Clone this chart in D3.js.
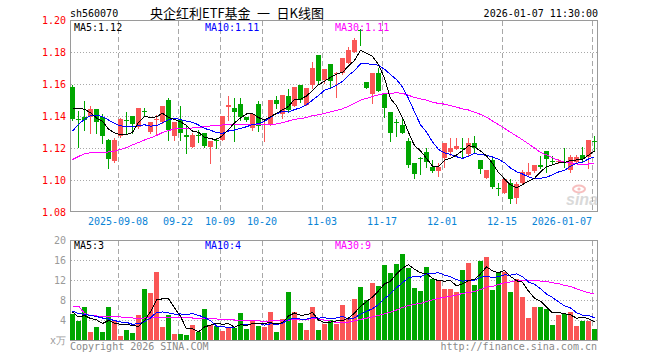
<!DOCTYPE html>
<html><head><meta charset="utf-8">
<script src="https://cdn.jsdelivr.net/npm/d3@7"></script>
<style>body{margin:0;background:#fff}svg{display:block}</style>
</head><body>
<svg id="c" width="660" height="360"></svg>
<script>
// ---------- data ----------
const tickIndex = [8,18,25,32,42,52,62,72,87];
const tickLabels = ["2025-09-08","09-22","10-09","10-20","11-03","11-17","12-01","12-15","2026-01-07"];
const priceTicks = [1.08,1.10,1.12,1.14,1.16,1.18,1.20];
const volTicks = [0,4,8,12,16,20];
const priceMaLabels = ["MA5:1.12","MA10:1.11","MA30:1.11"];
const volMaLabels = ["MA5:3","MA10:4","MA30:9"];

const open = [1.1583,1.1381,1.1396,1.1394,1.1444,1.1396,1.1250,1.1116,1.1275,1.1378,
1.1400,1.1331,1.1434,1.1300,1.1378,1.1364,1.1500,1.1275,1.1375,1.1281,
1.1208,1.1284,1.1294,1.1208,1.1253,1.1250,1.1459,1.1450,1.1475,1.1396,
1.1327,1.1475,1.1347,1.1350,1.1500,1.1413,1.1525,1.1463,1.1594,1.1469,
1.1594,1.1781,1.1625,1.1725,1.1664,1.1667,1.1729,1.1798,1.1939,1.1611,
1.1538,1.1667,1.1542,1.1427,1.1361,1.1344,1.1244,1.1104,1.1139,1.1173,
1.1083,1.1058,1.1136,1.1177,1.1192,1.1201,1.1163,1.1233,1.1125,1.1011,
1.1125,1.0951,1.0917,1.0983,1.0886,1.0979,1.1031,1.1058,1.1091,1.1181,
1.1118,1.1111,1.1111,1.1063,1.1115,1.1156,1.1146,1.1246];
const close = [1.1379,1.1375,1.1375,1.1444,1.1363,1.1278,1.1134,1.1253,1.1381,1.1372,
1.1347,1.1450,1.1428,1.1363,1.1384,1.1463,1.1313,1.1364,1.1296,1.1271,
1.1281,1.1278,1.1213,1.1246,1.1247,1.1400,1.1466,1.1427,1.1396,1.1375,
1.1413,1.1338,1.1353,1.1500,1.1475,1.1531,1.1438,1.1583,1.1500,1.1573,
1.1702,1.1619,1.1694,1.1621,1.1670,1.1761,1.1813,1.1875,1.1933,1.1573,
1.1671,1.1558,1.1448,1.1292,1.1355,1.1296,1.1094,1.1036,1.1133,1.1114,
1.1058,1.1083,1.1229,1.1198,1.1213,1.1195,1.1233,1.1198,1.1067,1.1063,
1.0958,1.0945,1.1004,1.0879,1.0975,1.1052,1.1052,1.1094,1.1084,1.1129,
1.1111,1.1118,1.1105,1.1146,1.1146,1.1129,1.1250,1.1236];
const high = [1.1594,1.1433,1.1494,1.1463,1.1444,1.1413,1.1259,1.1263,1.1388,1.1425,
1.1400,1.1450,1.1450,1.1363,1.1406,1.1463,1.1514,1.1364,1.1463,1.1338,
1.1294,1.1313,1.1296,1.1246,1.1263,1.1400,1.1525,1.1513,1.1513,1.1396,
1.1413,1.1494,1.1375,1.1500,1.1527,1.1531,1.1569,1.1583,1.1594,1.1573,
1.1739,1.1781,1.1694,1.1725,1.1677,1.1761,1.1833,1.1888,1.1942,1.1611,
1.1671,1.1698,1.1542,1.1427,1.1381,1.1396,1.1263,1.1104,1.1146,1.1198,
1.1125,1.1108,1.1229,1.1261,1.1261,1.1261,1.1261,1.1275,1.1125,1.1063,
1.1135,1.0979,1.1011,1.1004,1.0989,1.1063,1.1104,1.1094,1.1150,1.1181,
1.1150,1.1131,1.1198,1.1156,1.1156,1.1208,1.1250,1.1275];
const low = [1.1375,1.1206,1.1313,1.1294,1.1294,1.1231,1.1075,1.1113,1.1269,1.1288,
1.1294,1.1325,1.1400,1.1291,1.1288,1.1356,1.1250,1.1250,1.1250,1.1171,
1.1208,1.1239,1.1208,1.1106,1.1202,1.1248,1.1375,1.1246,1.1375,1.1369,
1.1313,1.1306,1.1246,1.1344,1.1448,1.1388,1.1427,1.1463,1.1490,1.1469,
1.1573,1.1606,1.1606,1.1573,1.1521,1.1663,1.1729,1.1798,1.1844,1.1573,
1.1481,1.1558,1.1396,1.1246,1.1275,1.1292,1.1081,1.1011,1.1038,1.1083,
1.1052,1.1025,1.1083,1.1156,1.1192,1.1136,1.1156,1.1177,1.1042,1.1011,
1.0948,1.0906,1.0917,1.0854,1.0854,1.0979,1.1031,1.1052,1.1073,1.1052,
1.1106,1.1106,1.1083,1.1052,1.1104,1.1115,1.1073,1.1183];
const volume = [5.3,3.7,6.7,1.7,2.7,1.7,6.7,4.0,0.7,2.0,
1.5,5.0,10.3,9.5,13.7,2.7,5.0,1.2,1.2,1.0,
3.0,1.7,6.2,3.0,2.9,1.9,2.5,2.5,5.5,2.2,
3.7,2.8,2.7,5.7,1.7,4.2,9.7,5.7,3.5,2.0,
6.7,2.0,3.2,4.0,3.2,7.0,4.5,8.2,10.7,8.0,
11.5,10.8,15.0,13.5,15.2,17.2,14.4,10.5,9.8,14.7,
12.2,12.0,10.2,10.2,9.7,14.0,15.5,11.0,15.9,16.7,
10.0,13.5,13.7,9.7,12.3,8.7,4.5,6.7,6.7,6.2,
3.0,5.0,5.3,5.7,2.8,3.9,3.7,2.2];

// moving-average values at the start of the window (earlier history not shown)
const ma5Lead = [1.1448,1.1448,1.1442,1.1421];
const ma10Lead = [1.1306,1.1348,1.1379,1.1402,1.1406,1.1396,1.1375,1.1354,1.1338];
const ma30Lead = [1.1128,1.1147,1.1163,1.1171,1.1173,1.1173,1.1175,1.1181,1.1191,1.1203,
1.1219,1.1234,1.1250,1.1263,1.1278,1.1297,1.1309,1.1319,1.1323,1.1323,
1.1325,1.1329,1.1333,1.1338,1.1341,1.1344,1.1344,1.1346,1.1347];
const vma5Lead = [5.6,4.6,4.9,4.3];
const vma10Lead = [5.8,5.3,5.1,4.9,4.7,4.4,4.2,3.9,3.6];
const vma30Lead = [6.8,6.8,5.3,4.9,4.8,4.8,4.7,4.7,4.6,4.5,4.4,4.3,4.4,4.5,4.5,4.5,4.5,4.5,4.5,4.5,
4.4,4.4,4.3,4.3,4.2,4.1,4.1,4.0,4.0];

// ---------- chart ----------
const RED = "#fa5656", GREEN = "#00a600", GRID = "#a8a8a8", FRAME = "#9a9a9a";
const MONO = "'DejaVu Sans Mono', 'Liberation Mono', monospace";
const n = close.length;
function ma(arr, p, lead) {
  return arr.map((v, i) => i < p - 1 ? lead[i] : d3.mean(arr.slice(i - p + 1, i + 1)));
}
const svg = d3.select("#c");
const xb = d3.scaleBand().domain(d3.range(n)).range([69.5, 597.5]);
const cx = i => xb(i) + xb.bandwidth() / 2;
const xT = d3.scaleLinear().domain([0, n]).range([69.5, 597.5]);
const yP = d3.scaleLinear().domain([1.08, 1.20]).range([212, 20]);
const yV = d3.scaleLinear().domain([0, 20]).range([340, 240]);

// header
svg.append("text").attr("x", 70).attr("y", 17).attr("font-family", MONO).attr("font-size", 10)
  .text("sh560070");
svg.append("text").attr("x", 150).attr("y", 18).attr("font-family", "'Noto Sans CJK SC', sans-serif")
  .attr("font-size", 13).style("white-space", "pre").text("央企红利ETF基金\u2002一\u2002日K线图");
svg.append("text").attr("x", 598).attr("y", 17).attr("text-anchor", "end").attr("font-family", MONO)
  .attr("font-size", 10).text("2026-01-07 11:30:00");

function panel(y0, y1, ticks, yScale) {
  const g = svg.append("g").attr("shape-rendering", "crispEdges");
  g.selectAll(".h").data(ticks.filter(t => yScale(t) > y0 + 1 && yScale(t) < y1 - 1)).join("line")
    .attr("x1", 71).attr("x2", 597).attr("y1", d => Math.round(yScale(d)) + 0.5)
    .attr("y2", d => Math.round(yScale(d)) + 0.5)
    .attr("stroke", GRID).attr("stroke-dasharray", "1,2");
  g.selectAll(".v").data(tickIndex).join("line")
    .attr("x1", d => xT(d) + 1).attr("x2", d => xT(d) + 1)
    .attr("y1", y0 + 1).attr("y2", y1)
    .attr("stroke", GRID).attr("stroke-dasharray", "5,3");
  g.append("rect").attr("x", 70.5).attr("y", y0 + 0.5).attr("width", 527).attr("height", y1 - y0)
    .attr("fill", "none").attr("stroke", FRAME);
  return g;
}
panel(20, 211, priceTicks, yP);
panel(240, 340, volTicks, yV);

// sina watermark
const wm = svg.append("g").attr("opacity", 0.5);
wm.append("ellipse").attr("cx", 579).attr("cy", 189).attr("rx", 6).attr("ry", 3.5)
  .attr("fill", "none").attr("stroke", "#f08080").attr("stroke-width", 2);
wm.append("circle").attr("cx", 579).attr("cy", 189).attr("r", 1.6).attr("fill", "#f08080");
wm.append("text").attr("x", 566).attr("y", 205).attr("font-family", "'Liberation Sans', Arial")
  .attr("font-style", "italic").attr("font-weight", "bold").attr("font-size", 16)
  .attr("fill", "#b5b5b5").text("sina");

// axes
const axP = svg.append("g").attr("transform", "translate(70,0.5)")
  .call(d3.axisLeft(yP).tickValues(priceTicks).tickFormat(d3.format(".2f")).tickSize(0).tickPadding(4));
axP.select(".domain").remove();
axP.selectAll("text").attr("fill", "#ff0000").attr("font-family", MONO).attr("font-size", 10);

const axV = svg.append("g").attr("transform", "translate(70,0.5)")
  .call(d3.axisLeft(yV).tickValues(volTicks).tickFormat(d => d === 0 ? "x万" : d).tickSize(0).tickPadding(4));
axV.select(".domain").remove();
axV.selectAll("text").attr("fill", "#9a9a9a").attr("font-family", MONO).attr("font-size", 10);

const axX = svg.append("g").attr("transform", "translate(0,212)")
  .call(d3.axisBottom(xT).tickValues(tickIndex).tickFormat((d, k) => tickLabels[k]).tickSize(0).tickPadding(6));
axX.select(".domain").remove();
axX.selectAll("text").attr("fill", "#0a84d6").attr("font-family", MONO).attr("font-size", 10)
  .attr("text-anchor", (d, k) => k === tickIndex.length - 1 ? "end" : "middle");

// candles
const cg = svg.append("g").attr("shape-rendering", "crispEdges");
const col = i => close[i] >= open[i] ? RED : GREEN;
cg.selectAll(".w").data(d3.range(n)).join("line")
  .attr("x1", cx).attr("x2", cx)
  .attr("y1", i => Math.round(yP(high[i]))).attr("y2", i => Math.round(yP(low[i])) + 1)
  .attr("stroke", col);
cg.selectAll(".b").data(d3.range(n)).join("rect")
  .attr("x", i => cx(i) - 2.5).attr("width", 5)
  .attr("y", i => Math.round(yP(Math.max(open[i], close[i]))))
  .attr("height", i => Math.max(1, Math.round(yP(Math.min(open[i], close[i]))) - Math.round(yP(Math.max(open[i], close[i])))))
  .attr("fill", col);

// volume bars
cg.selectAll(".vb").data(d3.range(n)).join("rect")
  .attr("x", i => cx(i) - 2.5).attr("width", 5)
  .attr("y", i => Math.round(yV(volume[i]))).attr("height", i => 340 - Math.round(yV(volume[i])))
  .attr("fill", col);

// moving averages
function drawLine(vals, yScale, color) {
  svg.append("path").datum(vals)
    .attr("d", d3.line().x((d, i) => cx(i)).y(d => yScale(d)))
    .attr("fill", "none").attr("stroke", color).attr("stroke-width", 1)
    .attr("shape-rendering", "crispEdges");
}
drawLine(ma(close, 30, ma30Lead), yP, "#ff00ff");
drawLine(ma(close, 10, ma10Lead), yP, "#0000ff");
drawLine(ma(close, 5, ma5Lead), yP, "#000000");
drawLine(ma(volume, 30, vma30Lead), yV, "#ff00ff");
drawLine(ma(volume, 10, vma10Lead), yV, "#0000ff");
drawLine(ma(volume, 5, vma5Lead), yV, "#000000");

// MA legends
const legX = [74, 205, 335], legC = ["#000000", "#0000ff", "#ff00ff"];
priceMaLabels.forEach((t, k) => svg.append("text").attr("x", legX[k]).attr("y", 31)
  .attr("font-family", MONO).attr("font-size", 10).attr("fill", legC[k]).text(t));
volMaLabels.forEach((t, k) => svg.append("text").attr("x", legX[k]).attr("y", 249)
  .attr("font-family", MONO).attr("font-size", 10).attr("fill", legC[k]).text(t));

// footer
svg.append("text").attr("x", 70).attr("y", 350).attr("font-family", MONO).attr("font-size", 10)
  .attr("fill", "#8a8a8a").text("Copyright 2026 SINA.COM");
svg.append("text").attr("x", 597).attr("y", 350).attr("text-anchor", "end").attr("font-family", MONO)
  .attr("font-size", 10).attr("fill", "#8a8a8a").text("http://finance.sina.com.cn");
</script>
</body></html>
